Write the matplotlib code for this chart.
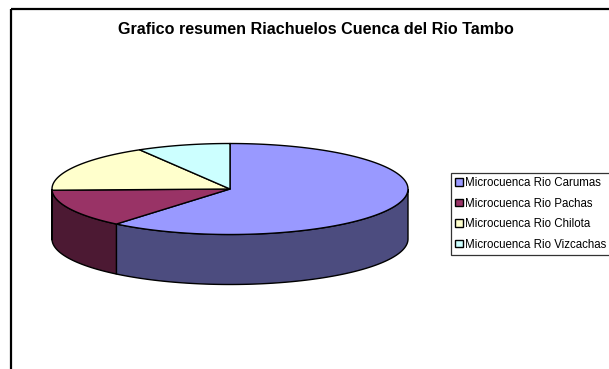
import numpy as np
import matplotlib.pyplot as plt
from matplotlib.patches import Polygon, Rectangle, Patch

plt.rcParams['font.family'] = ['Liberation Sans', 'DejaVu Sans']

# numero de riachuelos por microcuenca
labels = ['Microcuenca Rio Carumas', 'Microcuenca Rio Pachas',
          'Microcuenca Rio Chilota', 'Microcuenca Rio Vizcachas']
counts = [36, 8, 10, 5]
top_colors = ['#9999FF', '#993366', '#FFFFCC', '#CCFFFF']
side_colors = ['#4C4C7F', '#4C1933', '#7F7F66', '#667F7F']

title = 'Grafico resumen Riachuelos Cuenca del Rio Tambo'

# geometria del pastel 3D (en pixeles)
cx, cy = 230, 189
rx, ry = 178, 45.5
depth = 50

fig = plt.figure(figsize=(6.09, 3.69), dpi=100)
ax = fig.add_axes([0, 0, 1, 1])
ax.set_xlim(0, 609)
ax.set_ylim(369, 0)
ax.axis('off')

# marco del grafico
ax.add_patch(Rectangle((11, 9), 700, 500, fill=False, ec='black', lw=1.6))

ax.text(315.5, 30, title, ha='center', va='center', fontsize=11.6,
        fontweight='bold')


def arc(t0, t1, dy=0, n=120):
    t = np.radians(np.linspace(t0, t1, n))
    return np.column_stack([cx + rx * np.cos(t), cy - ry * np.sin(t) + dy])


# angulos: empieza arriba (90) y gira en sentido horario
frac = np.array(counts) / sum(counts)
ends = 90 - np.cumsum(frac) * 360
starts = np.r_[90, ends[:-1]]

# paredes laterales (solo la mitad frontal es visible)
for s, e, col in zip(starts, ends, side_colors):
    lo, hi = e % 360, s % 360
    if hi <= lo:
        hi += 360
    for a, b in [(180, 360), (540, 720)]:
        t0, t1 = max(lo, a), min(hi, b)
        if t1 > t0:
            pts = np.vstack([arc(t0, t1), arc(t1, t0, depth)])
            ax.add_patch(Polygon(pts, closed=True, fc=col, ec='black', lw=1.0))

# caras superiores
for s, e, col in zip(starts, ends, top_colors):
    pts = np.vstack([[cx, cy], arc(s, e)])
    ax.add_patch(Polygon(pts, closed=True, fc=col, ec='black', lw=1.0,
                         joinstyle='round'))

handles = [Patch(fc=c, ec='black', lw=1.0) for c in top_colors]
leg = fig.legend(handles, labels, loc='upper left',
                 bbox_to_anchor=(451 / 609, 1 - 173 / 369),
                 fontsize=8.3, frameon=True, fancybox=False,
                 handlelength=0.65, handleheight=0.65, handletextpad=0.25,
                 labelspacing=0.74, borderpad=0.35, borderaxespad=0)
leg.get_frame().set_edgecolor('black')
leg.get_frame().set_linewidth(0.9)

fig.savefig('out.png', dpi=100)
